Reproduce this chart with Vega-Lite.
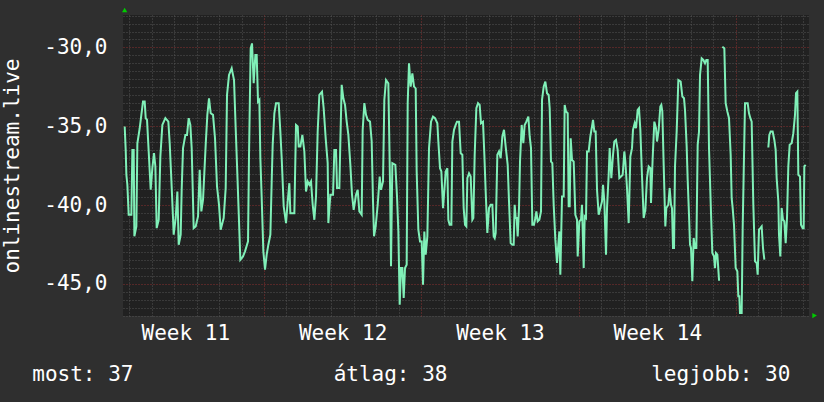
{
"$schema": "https://vega.github.io/schema/vega-lite/v6.json",
"width": 686, "height": 301,
"autosize": {"type": "none"},
"padding": {"left": 123, "top": 15, "right": 15, "bottom": 86},
"background": "#2f2f2f",
"config": {"view": {"fill": "#212121", "stroke": null}, "font": "DejaVu Sans Mono"},
"datasets": {
"series": [
{"day":0.802,"v":-35.02,"seg":1},{"day":0.847,"v":-36.50,"seg":1},{"day":0.877,"v":-38.08,"seg":1},{"day":0.921,"v":-38.71,"seg":1},{"day":0.980,"v":-40.61,"seg":1},{"day":1.099,"v":-40.61,"seg":1},{"day":1.144,"v":-36.50,"seg":1},{"day":1.203,"v":-36.50,"seg":1},{"day":1.233,"v":-41.98,"seg":1},{"day":1.322,"v":-41.35,"seg":1},{"day":1.366,"v":-36.08,"seg":1},{"day":1.470,"v":-35.13,"seg":1},{"day":1.544,"v":-34.28,"seg":1},{"day":1.618,"v":-33.44,"seg":1},{"day":1.692,"v":-33.44,"seg":1},{"day":1.737,"v":-34.49,"seg":1},{"day":1.796,"v":-34.60,"seg":1},{"day":1.870,"v":-36.60,"seg":1},{"day":1.959,"v":-39.03,"seg":1},{"day":2.033,"v":-37.66,"seg":1},{"day":2.107,"v":-36.71,"seg":1},{"day":2.167,"v":-37.55,"seg":1},{"day":2.226,"v":-41.46,"seg":1},{"day":2.315,"v":-40.93,"seg":1},{"day":2.389,"v":-36.92,"seg":1},{"day":2.478,"v":-34.92,"seg":1},{"day":2.612,"v":-34.49,"seg":1},{"day":2.745,"v":-34.71,"seg":1},{"day":2.805,"v":-36.08,"seg":1},{"day":2.879,"v":-38.40,"seg":1},{"day":2.953,"v":-40.82,"seg":1},{"day":2.982,"v":-41.88,"seg":1},{"day":3.071,"v":-40.82,"seg":1},{"day":3.146,"v":-39.14,"seg":1},{"day":3.205,"v":-42.51,"seg":1},{"day":3.294,"v":-41.88,"seg":1},{"day":3.338,"v":-39.03,"seg":1},{"day":3.398,"v":-36.39,"seg":1},{"day":3.502,"v":-35.55,"seg":1},{"day":3.576,"v":-35.55,"seg":1},{"day":3.650,"v":-34.49,"seg":1},{"day":3.724,"v":-34.92,"seg":1},{"day":3.783,"v":-36.39,"seg":1},{"day":3.828,"v":-38.92,"seg":1},{"day":3.872,"v":-41.46,"seg":1},{"day":3.961,"v":-41.35,"seg":1},{"day":4.065,"v":-40.72,"seg":1},{"day":4.139,"v":-37.76,"seg":1},{"day":4.213,"v":-40.40,"seg":1},{"day":4.288,"v":-39.66,"seg":1},{"day":4.406,"v":-36.18,"seg":1},{"day":4.480,"v":-34.28,"seg":1},{"day":4.554,"v":-33.23,"seg":1},{"day":4.629,"v":-34.18,"seg":1},{"day":4.732,"v":-34.28,"seg":1},{"day":4.821,"v":-35.76,"seg":1},{"day":4.910,"v":-38.82,"seg":1},{"day":4.999,"v":-39.98,"seg":1},{"day":5.073,"v":-41.56,"seg":1},{"day":5.207,"v":-40.82,"seg":1},{"day":5.296,"v":-38.92,"seg":1},{"day":5.355,"v":-33.02,"seg":1},{"day":5.444,"v":-31.75,"seg":1},{"day":5.563,"v":-31.33,"seg":1},{"day":5.667,"v":-32.07,"seg":1},{"day":5.741,"v":-35.13,"seg":1},{"day":5.800,"v":-37.45,"seg":1},{"day":5.889,"v":-41.03,"seg":1},{"day":5.948,"v":-43.46,"seg":1},{"day":6.067,"v":-43.25,"seg":1},{"day":6.156,"v":-42.93,"seg":1},{"day":6.290,"v":-42.30,"seg":1},{"day":6.334,"v":-36.81,"seg":1},{"day":6.408,"v":-30.06,"seg":1},{"day":6.468,"v":-29.75,"seg":1},{"day":6.542,"v":-32.28,"seg":1},{"day":6.616,"v":-30.49,"seg":1},{"day":6.675,"v":-30.49,"seg":1},{"day":6.735,"v":-33.44,"seg":1},{"day":6.794,"v":-33.33,"seg":1},{"day":6.839,"v":-37.03,"seg":1},{"day":6.898,"v":-39.56,"seg":1},{"day":6.972,"v":-42.93,"seg":1},{"day":7.046,"v":-44.09,"seg":1},{"day":7.120,"v":-43.14,"seg":1},{"day":7.195,"v":-42.51,"seg":1},{"day":7.284,"v":-41.88,"seg":1},{"day":7.343,"v":-38.50,"seg":1},{"day":7.387,"v":-36.18,"seg":1},{"day":7.462,"v":-34.18,"seg":1},{"day":7.536,"v":-33.54,"seg":1},{"day":7.654,"v":-33.54,"seg":1},{"day":7.728,"v":-35.34,"seg":1},{"day":7.788,"v":-37.03,"seg":1},{"day":7.877,"v":-40.08,"seg":1},{"day":7.981,"v":-41.14,"seg":1},{"day":8.055,"v":-39.77,"seg":1},{"day":8.129,"v":-38.61,"seg":1},{"day":8.173,"v":-40.51,"seg":1},{"day":8.351,"v":-40.51,"seg":1},{"day":8.425,"v":-34.92,"seg":1},{"day":8.500,"v":-35.02,"seg":1},{"day":8.544,"v":-36.29,"seg":1},{"day":8.618,"v":-36.29,"seg":1},{"day":8.707,"v":-35.55,"seg":1},{"day":8.796,"v":-36.60,"seg":1},{"day":8.870,"v":-39.14,"seg":1},{"day":8.945,"v":-38.50,"seg":1},{"day":9.019,"v":-38.71,"seg":1},{"day":9.093,"v":-38.50,"seg":1},{"day":9.167,"v":-39.98,"seg":1},{"day":9.241,"v":-40.93,"seg":1},{"day":9.315,"v":-39.45,"seg":1},{"day":9.389,"v":-35.34,"seg":1},{"day":9.464,"v":-33.02,"seg":1},{"day":9.582,"v":-32.81,"seg":1},{"day":9.656,"v":-33.86,"seg":1},{"day":9.745,"v":-35.76,"seg":1},{"day":9.834,"v":-37.34,"seg":1},{"day":9.864,"v":-41.14,"seg":1},{"day":9.953,"v":-39.35,"seg":1},{"day":10.072,"v":-39.35,"seg":1},{"day":10.131,"v":-36.50,"seg":1},{"day":10.205,"v":-36.50,"seg":1},{"day":10.250,"v":-38.92,"seg":1},{"day":10.353,"v":-38.92,"seg":1},{"day":10.398,"v":-35.97,"seg":1},{"day":10.457,"v":-32.38,"seg":1},{"day":10.531,"v":-33.23,"seg":1},{"day":10.606,"v":-33.65,"seg":1},{"day":10.680,"v":-34.71,"seg":1},{"day":10.754,"v":-35.55,"seg":1},{"day":10.843,"v":-37.45,"seg":1},{"day":10.917,"v":-39.35,"seg":1},{"day":10.991,"v":-40.30,"seg":1},{"day":11.095,"v":-39.35,"seg":1},{"day":11.169,"v":-39.03,"seg":1},{"day":11.243,"v":-40.40,"seg":1},{"day":11.347,"v":-40.61,"seg":1},{"day":11.391,"v":-35.23,"seg":1},{"day":11.466,"v":-33.54,"seg":1},{"day":11.540,"v":-34.28,"seg":1},{"day":11.614,"v":-34.60,"seg":1},{"day":11.718,"v":-34.71,"seg":1},{"day":11.792,"v":-35.97,"seg":1},{"day":11.851,"v":-39.77,"seg":1},{"day":11.896,"v":-41.98,"seg":1},{"day":11.970,"v":-41.35,"seg":1},{"day":12.059,"v":-39.98,"seg":1},{"day":12.148,"v":-38.19,"seg":1},{"day":12.207,"v":-39.03,"seg":1},{"day":12.296,"v":-38.50,"seg":1},{"day":12.355,"v":-33.33,"seg":1},{"day":12.430,"v":-32.07,"seg":1},{"day":12.533,"v":-32.28,"seg":1},{"day":12.607,"v":-38.50,"seg":1},{"day":12.652,"v":-43.88,"seg":1},{"day":12.711,"v":-37.34,"seg":1},{"day":12.845,"v":-37.45,"seg":1},{"day":12.919,"v":-39.45,"seg":1},{"day":12.979,"v":-41.67,"seg":1},{"day":13.038,"v":-46.31,"seg":1},{"day":13.097,"v":-43.99,"seg":1},{"day":13.157,"v":-43.99,"seg":1},{"day":13.216,"v":-45.89,"seg":1},{"day":13.275,"v":-43.99,"seg":1},{"day":13.349,"v":-43.78,"seg":1},{"day":13.394,"v":-33.54,"seg":1},{"day":13.453,"v":-31.01,"seg":1},{"day":13.527,"v":-32.49,"seg":1},{"day":13.601,"v":-31.65,"seg":1},{"day":13.676,"v":-32.49,"seg":1},{"day":13.750,"v":-32.60,"seg":1},{"day":13.794,"v":-37.87,"seg":1},{"day":13.868,"v":-41.56,"seg":1},{"day":13.943,"v":-42.30,"seg":1},{"day":14.017,"v":-42.30,"seg":1},{"day":14.076,"v":-45.04,"seg":1},{"day":14.135,"v":-41.67,"seg":1},{"day":14.195,"v":-43.14,"seg":1},{"day":14.269,"v":-41.98,"seg":1},{"day":14.343,"v":-36.39,"seg":1},{"day":14.432,"v":-34.71,"seg":1},{"day":14.521,"v":-34.39,"seg":1},{"day":14.610,"v":-34.49,"seg":1},{"day":14.714,"v":-34.81,"seg":1},{"day":14.758,"v":-35.97,"seg":1},{"day":14.832,"v":-37.66,"seg":1},{"day":14.892,"v":-37.87,"seg":1},{"day":14.966,"v":-40.19,"seg":1},{"day":15.010,"v":-39.35,"seg":1},{"day":15.085,"v":-37.87,"seg":1},{"day":15.159,"v":-37.66,"seg":1},{"day":15.203,"v":-40.93,"seg":1},{"day":15.262,"v":-41.25,"seg":1},{"day":15.337,"v":-41.25,"seg":1},{"day":15.381,"v":-35.97,"seg":1},{"day":15.455,"v":-35.23,"seg":1},{"day":15.529,"v":-34.92,"seg":1},{"day":15.589,"v":-34.71,"seg":1},{"day":15.678,"v":-34.71,"seg":1},{"day":15.752,"v":-36.71,"seg":1},{"day":15.826,"v":-36.81,"seg":1},{"day":15.885,"v":-40.19,"seg":1},{"day":15.945,"v":-41.25,"seg":1},{"day":16.004,"v":-41.35,"seg":1},{"day":16.049,"v":-38.29,"seg":1},{"day":16.123,"v":-37.98,"seg":1},{"day":16.197,"v":-38.19,"seg":1},{"day":16.271,"v":-40.93,"seg":1},{"day":16.316,"v":-40.82,"seg":1},{"day":16.375,"v":-36.81,"seg":1},{"day":16.449,"v":-33.86,"seg":1},{"day":16.523,"v":-33.54,"seg":1},{"day":16.597,"v":-33.65,"seg":1},{"day":16.656,"v":-34.81,"seg":1},{"day":16.745,"v":-34.71,"seg":1},{"day":16.805,"v":-36.81,"seg":1},{"day":16.864,"v":-39.14,"seg":1},{"day":16.938,"v":-41.77,"seg":1},{"day":17.012,"v":-40.19,"seg":1},{"day":17.087,"v":-39.98,"seg":1},{"day":17.161,"v":-39.98,"seg":1},{"day":17.220,"v":-41.98,"seg":1},{"day":17.264,"v":-42.09,"seg":1},{"day":17.309,"v":-41.77,"seg":1},{"day":17.383,"v":-36.81,"seg":1},{"day":17.457,"v":-36.60,"seg":1},{"day":17.531,"v":-37.03,"seg":1},{"day":17.606,"v":-35.65,"seg":1},{"day":17.680,"v":-35.23,"seg":1},{"day":17.754,"v":-36.29,"seg":1},{"day":17.843,"v":-37.45,"seg":1},{"day":17.902,"v":-39.77,"seg":1},{"day":17.976,"v":-42.41,"seg":1},{"day":18.051,"v":-42.51,"seg":1},{"day":18.110,"v":-42.51,"seg":1},{"day":18.154,"v":-39.98,"seg":1},{"day":18.199,"v":-40.82,"seg":1},{"day":18.243,"v":-40.82,"seg":1},{"day":18.288,"v":-41.98,"seg":1},{"day":18.347,"v":-40.19,"seg":1},{"day":18.392,"v":-37.24,"seg":1},{"day":18.466,"v":-34.92,"seg":1},{"day":18.540,"v":-36.08,"seg":1},{"day":18.599,"v":-34.92,"seg":1},{"day":18.673,"v":-34.71,"seg":1},{"day":18.762,"v":-34.39,"seg":1},{"day":18.822,"v":-35.65,"seg":1},{"day":18.881,"v":-36.39,"seg":1},{"day":18.940,"v":-41.25,"seg":1},{"day":19.014,"v":-41.25,"seg":1},{"day":19.074,"v":-40.82,"seg":1},{"day":19.119,"v":-40.40,"seg":1},{"day":19.178,"v":-41.03,"seg":1},{"day":19.252,"v":-40.93,"seg":1},{"day":19.326,"v":-40.40,"seg":1},{"day":19.371,"v":-33.33,"seg":1},{"day":19.445,"v":-32.49,"seg":1},{"day":19.519,"v":-32.17,"seg":1},{"day":19.593,"v":-32.91,"seg":1},{"day":19.667,"v":-33.02,"seg":1},{"day":19.712,"v":-33.86,"seg":1},{"day":19.771,"v":-37.24,"seg":1},{"day":19.830,"v":-37.34,"seg":1},{"day":19.890,"v":-39.98,"seg":1},{"day":19.964,"v":-42.19,"seg":1},{"day":20.038,"v":-43.67,"seg":1},{"day":20.083,"v":-42.72,"seg":1},{"day":20.142,"v":-41.67,"seg":1},{"day":20.186,"v":-44.41,"seg":1},{"day":20.261,"v":-39.45,"seg":1},{"day":20.335,"v":-39.45,"seg":1},{"day":20.379,"v":-33.65,"seg":1},{"day":20.438,"v":-34.07,"seg":1},{"day":20.513,"v":-34.18,"seg":1},{"day":20.557,"v":-40.08,"seg":1},{"day":20.602,"v":-40.08,"seg":1},{"day":20.646,"v":-35.76,"seg":1},{"day":20.705,"v":-37.13,"seg":1},{"day":20.780,"v":-37.24,"seg":1},{"day":20.854,"v":-40.61,"seg":1},{"day":20.928,"v":-40.93,"seg":1},{"day":20.958,"v":-43.25,"seg":1},{"day":21.032,"v":-41.03,"seg":1},{"day":21.106,"v":-40.93,"seg":1},{"day":21.150,"v":-39.98,"seg":1},{"day":21.225,"v":-43.99,"seg":1},{"day":21.269,"v":-40.72,"seg":1},{"day":21.328,"v":-40.82,"seg":1},{"day":21.373,"v":-36.60,"seg":1},{"day":21.447,"v":-36.60,"seg":1},{"day":21.521,"v":-35.65,"seg":1},{"day":21.595,"v":-35.02,"seg":1},{"day":21.640,"v":-34.60,"seg":1},{"day":21.699,"v":-35.34,"seg":1},{"day":21.758,"v":-35.34,"seg":1},{"day":21.818,"v":-39.03,"seg":1},{"day":21.892,"v":-40.61,"seg":1},{"day":21.966,"v":-40.19,"seg":1},{"day":22.040,"v":-39.77,"seg":1},{"day":22.085,"v":-38.71,"seg":1},{"day":22.144,"v":-39.77,"seg":1},{"day":22.218,"v":-43.14,"seg":1},{"day":22.263,"v":-40.19,"seg":1},{"day":22.337,"v":-38.08,"seg":1},{"day":22.381,"v":-36.39,"seg":1},{"day":22.455,"v":-38.29,"seg":1},{"day":22.530,"v":-36.81,"seg":1},{"day":22.589,"v":-35.97,"seg":1},{"day":22.663,"v":-35.87,"seg":1},{"day":22.737,"v":-36.50,"seg":1},{"day":22.811,"v":-38.29,"seg":1},{"day":22.885,"v":-38.19,"seg":1},{"day":22.960,"v":-38.08,"seg":1},{"day":23.034,"v":-36.60,"seg":1},{"day":23.078,"v":-37.24,"seg":1},{"day":23.152,"v":-38.92,"seg":1},{"day":23.227,"v":-41.14,"seg":1},{"day":23.301,"v":-36.92,"seg":1},{"day":23.375,"v":-36.39,"seg":1},{"day":23.419,"v":-35.23,"seg":1},{"day":23.493,"v":-34.81,"seg":1},{"day":23.553,"v":-35.13,"seg":1},{"day":23.627,"v":-33.97,"seg":1},{"day":23.686,"v":-33.86,"seg":1},{"day":23.746,"v":-35.23,"seg":1},{"day":23.820,"v":-38.19,"seg":1},{"day":23.894,"v":-40.82,"seg":1},{"day":23.968,"v":-40.30,"seg":1},{"day":24.042,"v":-38.29,"seg":1},{"day":24.116,"v":-37.55,"seg":1},{"day":24.191,"v":-37.66,"seg":1},{"day":24.220,"v":-39.87,"seg":1},{"day":24.294,"v":-37.03,"seg":1},{"day":24.368,"v":-34.71,"seg":1},{"day":24.443,"v":-35.13,"seg":1},{"day":24.487,"v":-35.97,"seg":1},{"day":24.561,"v":-35.23,"seg":1},{"day":24.635,"v":-33.76,"seg":1},{"day":24.680,"v":-33.65,"seg":1},{"day":24.724,"v":-34.07,"seg":1},{"day":24.784,"v":-37.45,"seg":1},{"day":24.858,"v":-41.35,"seg":1},{"day":24.902,"v":-40.19,"seg":1},{"day":24.991,"v":-39.98,"seg":1},{"day":25.050,"v":-38.92,"seg":1},{"day":25.110,"v":-39.98,"seg":1},{"day":25.154,"v":-40.19,"seg":1},{"day":25.199,"v":-42.72,"seg":1},{"day":25.244,"v":-42.72,"seg":1},{"day":25.288,"v":-37.55,"seg":1},{"day":25.362,"v":-35.34,"seg":1},{"day":25.437,"v":-32.07,"seg":1},{"day":25.540,"v":-32.17,"seg":1},{"day":25.615,"v":-33.12,"seg":1},{"day":25.689,"v":-33.23,"seg":1},{"day":25.733,"v":-33.97,"seg":1},{"day":25.807,"v":-36.29,"seg":1},{"day":25.852,"v":-38.40,"seg":1},{"day":25.911,"v":-40.61,"seg":1},{"day":25.956,"v":-42.51,"seg":1},{"day":26.000,"v":-42.72,"seg":1},{"day":26.059,"v":-44.83,"seg":1},{"day":26.119,"v":-42.09,"seg":1},{"day":26.178,"v":-42.72,"seg":1},{"day":26.237,"v":-42.72,"seg":1},{"day":26.297,"v":-36.18,"seg":1},{"day":26.356,"v":-35.34,"seg":1},{"day":26.401,"v":-31.75,"seg":1},{"day":26.475,"v":-30.70,"seg":1},{"day":26.549,"v":-30.80,"seg":1},{"day":26.623,"v":-31.01,"seg":1},{"day":26.682,"v":-30.80,"seg":1},{"day":26.742,"v":-30.80,"seg":1},{"day":26.801,"v":-36.39,"seg":1},{"day":26.890,"v":-40.51,"seg":1},{"day":26.949,"v":-43.04,"seg":1},{"day":27.023,"v":-43.25,"seg":1},{"day":27.068,"v":-43.99,"seg":1},{"day":27.112,"v":-43.04,"seg":1},{"day":27.172,"v":-43.14,"seg":1},{"day":27.246,"v":-44.73,"seg":1},{"day":27.290,"v":-44.73,"seg":1},
{"day":27.394,"v":-29.96,"seg":2},{"day":27.483,"v":-30.06,"seg":2},{"day":27.542,"v":-33.54,"seg":2},{"day":27.617,"v":-34.07,"seg":2},{"day":27.691,"v":-34.49,"seg":2},{"day":27.765,"v":-36.81,"seg":2},{"day":27.809,"v":-39.56,"seg":2},{"day":27.854,"v":-40.19,"seg":2},{"day":27.913,"v":-41.25,"seg":2},{"day":27.987,"v":-43.99,"seg":2},{"day":28.062,"v":-44.20,"seg":2},{"day":28.106,"v":-45.78,"seg":2},{"day":28.150,"v":-45.78,"seg":2},{"day":28.180,"v":-46.84,"seg":2},{"day":28.254,"v":-46.84,"seg":2},{"day":28.299,"v":-41.46,"seg":2},{"day":28.343,"v":-38.08,"seg":2},{"day":28.403,"v":-33.54,"seg":2},{"day":28.521,"v":-33.54,"seg":2},{"day":28.581,"v":-34.18,"seg":2},{"day":28.640,"v":-34.49,"seg":2},{"day":28.699,"v":-34.71,"seg":2},{"day":28.773,"v":-39.98,"seg":2},{"day":28.848,"v":-43.57,"seg":2},{"day":28.922,"v":-43.67,"seg":2},{"day":28.966,"v":-44.41,"seg":2},{"day":29.025,"v":-41.56,"seg":2},{"day":29.085,"v":-41.46,"seg":2},{"day":29.144,"v":-41.35,"seg":2},{"day":29.203,"v":-42.72,"seg":2},{"day":29.263,"v":-43.46,"seg":2},
{"day":29.441,"v":-36.35,"seg":3},{"day":29.485,"v":-35.55,"seg":3},{"day":29.544,"v":-35.34,"seg":3},{"day":29.633,"v":-35.34,"seg":3},{"day":29.708,"v":-35.87,"seg":3},{"day":29.767,"v":-36.50,"seg":3},{"day":29.811,"v":-38.29,"seg":3},{"day":29.886,"v":-39.77,"seg":3},{"day":29.915,"v":-41.88,"seg":3},{"day":29.974,"v":-43.25,"seg":3},{"day":30.034,"v":-40.19,"seg":3},{"day":30.093,"v":-40.93,"seg":3},{"day":30.152,"v":-41.03,"seg":3},{"day":30.212,"v":-42.41,"seg":3},{"day":30.271,"v":-40.82,"seg":3},{"day":30.330,"v":-37.55,"seg":3},{"day":30.390,"v":-36.18,"seg":3},{"day":30.479,"v":-36.08,"seg":3},{"day":30.553,"v":-35.44,"seg":3},{"day":30.627,"v":-34.28,"seg":3},{"day":30.672,"v":-32.91,"seg":3},{"day":30.731,"v":-32.81,"seg":3},{"day":30.775,"v":-38.08,"seg":3},{"day":30.850,"v":-38.19,"seg":3},{"day":30.894,"v":-41.25,"seg":3},{"day":30.968,"v":-41.46,"seg":3},{"day":31.013,"v":-41.46,"seg":3},{"day":31.042,"v":-37.55,"seg":3},{"day":31.102,"v":-37.45,"seg":3}
]
},
"layer": [
{
"data": {"name": "series"},
"mark": {"type": "line", "color": "#80f0b8", "strokeWidth": 2, "clip": true},
"encoding": {
"x": {"field": "day", "type": "quantitative",
"scale": {"domain": [0.727, 31.25], "nice": false, "zero": false},
"axis": {"title": null, "domain": false, "ticks": false, "tickSize": 0, "tickCount": 200,
"values": [1,2,3,4,5,6,7,8,9,10,11,12,13,14,15,16,17,18,19,20,21,22,23,24,25,26,27,28,29,30,31,3.5,10.5,17.5,24.5],
"labelExpr": "datum.value % 1 != 0 ? 'Week ' + (11 + floor(datum.value / 7)) : ''",
"labelFont": "DejaVu Sans Mono", "labelFontSize": 21, "labelColor": "#ffffff",
"labelBaseline": "alphabetic", "labelPadding": 23, "labelAlign": "center",
"labelOverlap": false, "labelFlush": false, "labelBound": false,
"grid": true, "gridDash": [1, 2], "gridWidth": 1,
"gridColor": {"condition": {"test": "datum.value % 7 == 0", "value": "#8a3030"}, "value": "#555555"},
"gridOpacity": {"condition": {"test": "datum.value % 1 != 0", "value": 0}, "value": 1}}},
"y": {"field": "v", "type": "quantitative",
"scale": {"domain": [-47.03, -27.95], "nice": false, "zero": false},
"axis": {"title": "onlinestream.live", "domain": false, "ticks": false, "tickSize": 0, "tickCount": 200,
"values": [-47,-46.5,-46,-45.5,-45,-44.5,-44,-43.5,-43,-42.5,-42,-41.5,-41,-40.5,-40,-39.5,-39,-38.5,-38,-37.5,-37,-36.5,-36,-35.5,-35,-34.5,-34,-33.5,-33,-32.5,-32,-31.5,-31,-30.5,-30,-29.5,-29,-28.5,-28],
"labelExpr": "datum.value % 5 == 0 ? '-' + replace(format(abs(datum.value), '.1f'), '.', ',') : ''",
"labelFont": "DejaVu Sans Mono", "labelFontSize": 21, "labelColor": "#ffffff",
"labelPadding": 16, "labelBaseline": "middle", "labelOverlap": false, "labelFlush": false, "labelBound": false,
"grid": true, "gridDash": [1, 2], "gridWidth": 1,
"gridColor": {"condition": {"test": "datum.value % 5 == 0", "value": "#8a3030"}, "value": "#555555"},
"titleFont": "DejaVu Sans Mono", "titleFontSize": 21, "titleFontWeight": "normal", "titleColor": "#ffffff",
"titleAngle": 270, "titleX": -105, "titleY": 150.5, "titleAlign": "center", "titleBaseline": "alphabetic"}},
"detail": {"field": "seg", "type": "nominal"}
}
},
{
"data": {"values": [{}]},
"mark": {"type": "point", "shape": "triangle-up", "filled": true, "color": "#00cc00", "opacity": 1, "size": 28, "clip": false},
"encoding": {"x": {"datum": 0.8}, "y": {"datum": -27.63}}
},
{
"data": {"values": [{}]},
"mark": {"type": "point", "shape": "triangle-right", "filled": true, "color": "#00cc00", "opacity": 1, "size": 28, "clip": false},
"encoding": {"x": {"datum": 31.5}, "y": {"datum": -47.0}}
},
{
"data": {"values": [{}]},
"mark": {"type": "text", "align": "left", "baseline": "alphabetic", "font": "DejaVu Sans Mono", "fontSize": 21, "color": "#ffffff", "clip": false},
"encoding": {"x": {"datum": -3.31}, "y": {"datum": -51.14}, "text": {"value": "most: 37"}}
},
{
"data": {"values": [{}]},
"mark": {"type": "text", "align": "left", "baseline": "alphabetic", "font": "DejaVu Sans Mono", "fontSize": 21, "color": "#ffffff", "clip": false},
"encoding": {"x": {"datum": 10.1}, "y": {"datum": -51.14}, "text": {"value": "átlag: 38"}}
},
{
"data": {"values": [{}]},
"mark": {"type": "text", "align": "left", "baseline": "alphabetic", "font": "DejaVu Sans Mono", "fontSize": 21, "color": "#ffffff", "clip": false},
"encoding": {"x": {"datum": 24.23}, "y": {"datum": -51.14}, "text": {"value": "legjobb: 30"}}
}
]
}
